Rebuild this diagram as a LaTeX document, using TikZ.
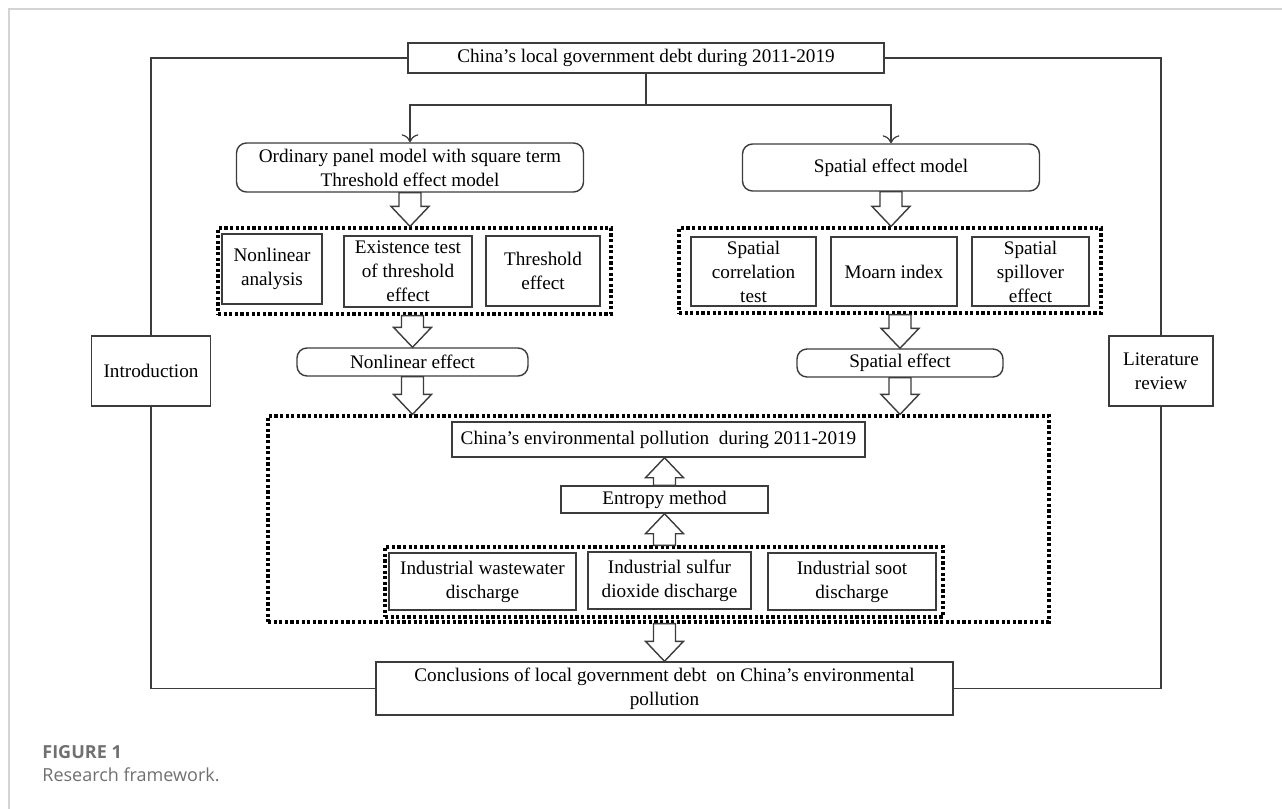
\documentclass[tikz,border=0pt]{standalone}
\usepackage{fontspec}
\setmainfont{Liberation Serif}
\newfontfamily\capfont{Open Sans}
\usetikzlibrary{calc}
\usetikzlibrary{arrows.meta}
\definecolor{linegray}{RGB}{60,60,60}
\definecolor{framegray}{RGB}{212,212,212}
\definecolor{captiongray}{RGB}{112,112,112}
% hollow block arrow from #1 to #2 (vertical)
\newcommand{\hollowarrow}[2]{%
  \draw[hollow] let \p1=(#1), \p2=(#2), \n1={sign(\y2-\y1)} in
    (\x1-5.5pt,\y1) -- (\x1-5.5pt,\y2-\n1*10pt) -- (\x1-9.5pt,\y2-\n1*10pt) -- (\x2,\y2)
    -- (\x1+9.5pt,\y2-\n1*10pt) -- (\x1+5.5pt,\y2-\n1*10pt) -- (\x1+5.5pt,\y1) -- cycle;}

\begin{document}
\begin{tikzpicture}[x=0.5pt, y=-0.5pt,
    every node/.style={font=\fontsize{9.6}{12}\selectfont, align=center, inner sep=1pt},
    box/.style={draw=linegray, line width=0.7pt, fill=white},
    rbox/.style={box, rounded corners=5pt},
    dotbox/.style={draw=black, line width=1.6pt, dash pattern=on 1.6pt off 1.2pt},
    hollow/.style={draw=linegray, line width=0.7pt, fill=white}]
    \useasboundingbox (0,0) rectangle (1282,809);
    \draw[framegray, line width=1pt] (9,809) -- (9,9) -- (1282,9);

    % dotted groups
    \node[dotbox, minimum width=196.5pt, minimum height=43pt] (grpL) at (414.5,271) {};
    \node[dotbox, minimum width=211pt, minimum height=42.5pt] (grpR) at (890,270.5) {};
    \node[dotbox, minimum width=390.5pt, minimum height=103pt] (grpE) at (658.5,519) {};
    \node[dotbox, minimum width=279pt, minimum height=35pt] (grpI) at (664,582) {};

    % boxes
    \node[box, minimum width=238pt, minimum height=15pt] (debt) at (646,58) {China’s local government debt during 2011-2019};
    \node[rbox, minimum width=173.5pt, minimum height=24.5pt] (panel) at (410,167.5) {Ordinary panel model with square term\\Threshold effect model};
    \node[rbox, minimum width=148.5pt, minimum height=23.5pt] (spmodel) at (891,167.5) {Spatial effect model};

    \node[box, minimum width=50pt, minimum height=35pt] (nonana) at (272,269) {Nonlinear\\analysis};
    \node[box, minimum width=64pt, minimum height=35.5pt] (exist) at (408,271.5) {Existence test\\of threshold\\effect};
    \node[box, minimum width=57pt, minimum height=35pt] (thres) at (543,271) {Threshold\\effect};
    \node[box, minimum width=62.5pt, minimum height=34.5pt] (spcor) at (753.5,271.5) {Spatial\\correlation\\test};
    \node[box, minimum width=63pt, minimum height=34.5pt] (moarn) at (894,271.5) {Moarn index};
    \node[box, minimum width=58.5pt, minimum height=34.5pt] (spill) at (1030.5,271.5) {Spatial\\spillover\\effect};

    \node[rbox, minimum width=115.5pt, minimum height=14pt] (noneff) at (412.5,362) {Nonlinear effect};
    \node[rbox, minimum width=103pt, minimum height=14pt] (speff) at (900,363) {Spatial effect};

    \node[box, minimum width=59.5pt, minimum height=35pt] (intro) at (151,371) {Introduction};
    \node[box, minimum width=52pt, minimum height=35pt] (litrev) at (1161,371) {Literature\\review};

    \node[box, minimum width=206.5pt, minimum height=17.5pt] (envpol) at (658.5,439.5) {China’s environmental pollution~ during 2011-2019};
    \node[box, minimum width=103.5pt, minimum height=13.5pt] (entropy) at (664.5,499.5) {Entropy method};
    \node[box, minimum width=93.5pt, minimum height=28.5pt] (waste) at (482.5,581.5) {Industrial wastewater\\discharge};
    \node[box, minimum width=81.5pt, minimum height=28.5pt] (sulfur) at (669.5,580.5) {Industrial sulfur\\dioxide discharge};
    \node[box, minimum width=84pt, minimum height=28.5pt] (soot) at (852,581.5) {Industrial soot\\discharge};

    \node[box, minimum width=288.5pt, minimum height=26.5pt] (concl) at (664.5,688.5) {Conclusions of local government debt~ on China’s environmental\\pollution};

    % frame
    \draw[linegray, line width=0.7pt] (debt.west) -| (intro.north);
    \draw[linegray, line width=0.7pt] (intro.south) |- (concl.west);
    \draw[linegray, line width=0.7pt] (debt.east) -| (litrev.north);
    \draw[linegray, line width=0.7pt] (litrev.south) |- (concl.east);

    % split
    \coordinate (fork) at (646,105);
    \draw[linegray, line width=0.6pt] (debt.south) -- (fork);
    \draw[linegray, line width=0.6pt, -{To[length=4pt]}] (fork) -| (panel.north);
    \draw[linegray, line width=0.6pt, -{To[length=4pt]}] (fork) -| (spmodel.north);

    % block arrows
    \hollowarrow{panel.south}{panel.south |- grpL.north}
    \hollowarrow{spmodel.south}{spmodel.south |- grpR.north}
    \hollowarrow{noneff.north |- grpL.south}{noneff.north}
    \hollowarrow{speff.north |- grpR.south}{speff.north}
    \hollowarrow{noneff.south}{noneff.south |- grpE.north}
    \hollowarrow{speff.south}{speff.south |- grpE.north}
    \hollowarrow{entropy.north}{entropy.north |- envpol.south}
    \hollowarrow{entropy.south |- grpI.north}{entropy.south}
    \hollowarrow{concl.north |- grpE.south}{concl.north}

    % caption
    \node[anchor=west, inner sep=0pt, font=\capfont\bfseries\fontsize{9}{11}\selectfont, text=captiongray] (fig) at (42,752) {FIGURE 1};
    \node[anchor=west, inner sep=0pt, font=\capfont\fontsize{9}{11}\selectfont, text=captiongray] (cap) at (42,775) {Research framework.};
\end{tikzpicture}
\end{document}
